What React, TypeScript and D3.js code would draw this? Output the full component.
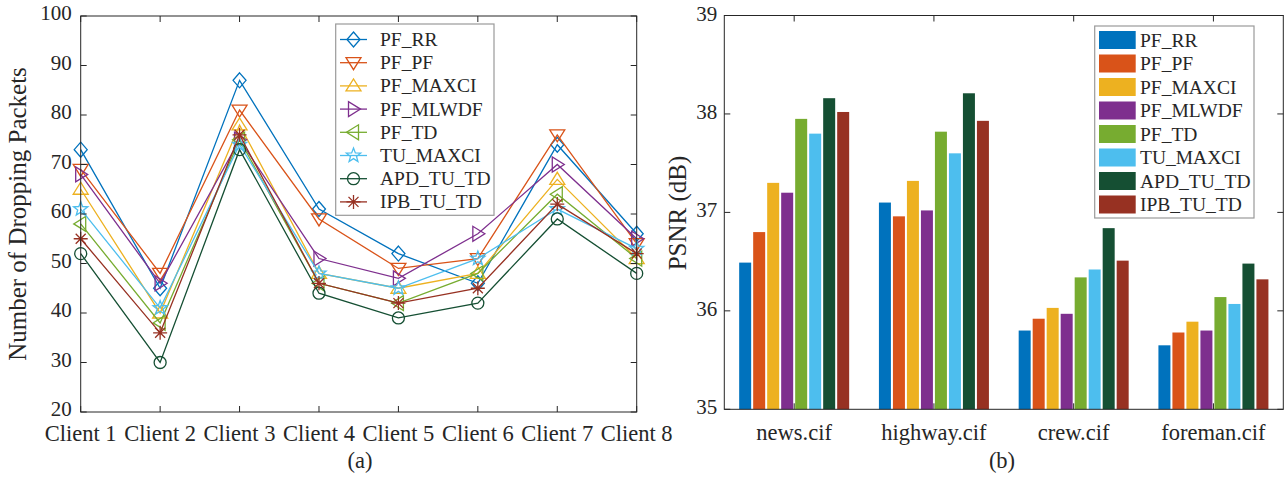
import React from "react";
import * as d3 from "d3";

const clients = ["Client 1", "Client 2", "Client 3", "Client 4", "Client 5", "Client 6", "Client 7", "Client 8"];
const seriesNames = ["PF_RR", "PF_PF", "PF_MAXCI", "PF_MLWDF", "PF_TD", "TU_MAXCI", "APD_TU_TD", "IPB_TU_TD"];

const dropPF_RR = [73, 45, 87, 61, 52, 46, 74, 56];
const dropPF_PF = [69, 48, 81, 59, 49, 51, 76, 54];
const dropPF_MAXCI = [65, 40, 78, 48, 45, 48, 67, 51];
const dropPF_MLWDF = [68, 46, 75, 51, 47, 56, 70, 55];
const dropPF_TD = [58, 38, 75, 46, 42, 48, 64, 51];
const dropTU_MAXCI = [61, 41, 74, 48, 45, 51, 61, 53];
const dropAPD_TU_TD = [52, 30, 73, 44, 39, 42, 59, 48];
const dropIPB_TU_TD = [55, 36, 76, 46, 42, 45, 62, 52];

const videos = ["news.cif", "highway.cif", "crew.cif", "foreman.cif"];
const psnrPF_RR = [36.49, 37.1, 35.8, 35.65];
const psnrPF_PF = [36.8, 36.96, 35.92, 35.78];
const psnrPF_MAXCI = [37.3, 37.32, 36.03, 35.89];
const psnrPF_MLWDF = [37.2, 37.02, 35.97, 35.8];
const psnrPF_TD = [37.95, 37.82, 36.34, 36.14];
const psnrTU_MAXCI = [37.8, 37.6, 36.42, 36.07];
const psnrAPD_TU_TD = [38.16, 38.21, 36.84, 36.48];
const psnrIPB_TU_TD = [38.02, 37.93, 36.51, 36.32];

const leftTicks = [20, 30, 40, 50, 60, 70, 80, 90, 100];
const rightTicks = [35, 36, 37, 38, 39];

const colors = ["#0072BD", "#D95319", "#EDB120", "#7E2F8E", "#77AC30", "#4DBEEE", "#154F33", "#973122"];
const markers = ["diamond", "tridown", "triup", "triright", "trileft", "star", "circle", "asterisk"];

const dropSeries = [dropPF_RR, dropPF_PF, dropPF_MAXCI, dropPF_MLWDF, dropPF_TD, dropTU_MAXCI, dropAPD_TU_TD, dropIPB_TU_TD];
const psnrSeries = [psnrPF_RR, psnrPF_PF, psnrPF_MAXCI, psnrPF_MLWDF, psnrPF_TD, psnrTU_MAXCI, psnrAPD_TU_TD, psnrIPB_TU_TD];

const FONT = "'Liberation Serif', 'Times New Roman', serif";
const AX = "#262626";

function starPath(r: number) {
  const pts: string[] = [];
  for (let i = 0; i < 10; i++) {
    const rr = i % 2 === 0 ? r : r * 0.42;
    const a = -Math.PI / 2 + (i * Math.PI) / 5;
    pts.push(`${(rr * Math.cos(a)).toFixed(2)},${(rr * Math.sin(a)).toFixed(2)}`);
  }
  return "M" + pts.join("L") + "Z";
}

function Marker({ type, x, y, color }: { type: string; x: number; y: number; color: string }) {
  const common = { fill: "none", stroke: color, strokeWidth: 1.3 };
  let d = "";
  switch (type) {
    case "diamond":
      d = "M0,-7.5L6.5,0L0,7.5L-6.5,0Z";
      break;
    case "tridown":
      d = "M-7.5,-5L7.5,-5L0,7Z";
      break;
    case "triup":
      d = "M-7.5,5L7.5,5L0,-7Z";
      break;
    case "triright":
      d = "M-5,-7.5L-5,7.5L7,0Z";
      break;
    case "trileft":
      d = "M5,-7.5L5,7.5L-7,0Z";
      break;
    case "star":
      d = starPath(7.5);
      break;
    case "circle":
      return <circle cx={x} cy={y} r={6} {...common} />;
    case "asterisk":
      d = "M0,-7L0,7M-7,0L7,0M-5,-5L5,5M-5,5L5,-5";
      break;
  }
  return <path d={d} transform={`translate(${x},${y})`} {...common} />;
}

function LeftChart() {
  const L = 80.7, R = 636.7, T = 16, B = 412;
  const x = d3.scalePoint<string>().domain(clients).range([L, R]);
  const y = d3.scaleLinear().domain([20, 100]).range([B, T]);
  const line = d3
    .line<number>()
    .x((_, i) => x(clients[i]) as number)
    .y((d) => y(d));
  const tl = 6;
  return (
    <g>
      <rect x={L} y={T} width={R - L} height={B - T} fill="white" />
      {dropSeries.map((s, si) => (
        <g key={si}>
          <path d={line(s) || ""} fill="none" stroke={colors[si]} strokeWidth={1.3} />
          {s.map((v, i) => (
            <Marker key={i} type={markers[si]} x={x(clients[i]) as number} y={y(v)} color={colors[si]} />
          ))}
        </g>
      ))}
      <rect x={L} y={T} width={R - L} height={B - T} fill="none" stroke={AX} strokeWidth={1} />
      {clients.map((c) => {
        const cx = x(c) as number;
        return (
          <g key={c}>
            <line x1={cx} x2={cx} y1={B} y2={B - tl} stroke={AX} />
            <line x1={cx} x2={cx} y1={T} y2={T + tl} stroke={AX} />
            <text x={cx} y={441} textAnchor="middle" fontSize={22.5} fill={AX} fontFamily={FONT}>
              {c}
            </text>
          </g>
        );
      })}
      {leftTicks.map((t) => (
        <g key={t}>
          <line x1={L} x2={L + tl} y1={y(t)} y2={y(t)} stroke={AX} />
          <line x1={R} x2={R - tl} y1={y(t)} y2={y(t)} stroke={AX} />
          <text x={L - 9} y={y(t) + 4} textAnchor="end" fontSize={21} fill={AX} fontFamily={FONT}>
            {t}
          </text>
        </g>
      ))}
      <text
        transform={`translate(26,214) rotate(-90)`}
        textAnchor="middle"
        fontSize={25}
        fill={AX}
        fontFamily={FONT}
      >
        Number of Dropping Packets
      </text>
      <text x={360} y={468} textAnchor="middle" fontSize={22.5} fill={AX} fontFamily={FONT}>
        (a)
      </text>
      <g>
        <rect x={335.7} y={24} width={158.3} height={191.3} fill="white" stroke="#9a9a9a" strokeWidth={1.2} />
        {seriesNames.map((n, i) => {
          const ry = 39.5 + i * 23.2;
          return (
            <g key={n}>
              <line x1={340} x2={367} y1={ry} y2={ry} stroke={colors[i]} strokeWidth={1.3} />
              <Marker type={markers[i]} x={353.5} y={ry} color={colors[i]} />
              <text x={380} y={ry + 6.5} fontSize={19.5} fill={AX} fontFamily={FONT}>
                {n}
              </text>
            </g>
          );
        })}
      </g>
    </g>
  );
}

function RightChart() {
  const L = 724.3, R = 1283.3, T = 15.5, B = 409.3;
  const x = d3.scaleBand<string>().domain(videos).range([L, R]).paddingInner(0).paddingOuter(0);
  const inner = d3
    .scaleBand<string>()
    .domain(seriesNames)
    .range([-56, 56])
    .paddingInner(1 / 7)
    .paddingOuter(1 / 14);
  const y = d3.scaleLinear().domain([35, 39]).range([B, T]);
  const tl = 6;
  return (
    <g>
      <rect x={L} y={T} width={R - L} height={B - T} fill="white" />
      {videos.map((v, vi) => {
        const cx = (x(v) as number) + x.bandwidth() / 2;
        return (
          <g key={v}>
            {psnrSeries.map((s, si) => (
              <rect
                key={si}
                x={cx + (inner(seriesNames[si]) as number)}
                y={y(s[vi])}
                width={inner.bandwidth()}
                height={y(35) - y(s[vi])}
                fill={colors[si]}
              />
            ))}
            <line x1={cx} x2={cx} y1={B} y2={B - tl} stroke={AX} />
            <line x1={cx} x2={cx} y1={T} y2={T + tl} stroke={AX} />
            <text x={cx} y={440} textAnchor="middle" fontSize={22.5} fill={AX} fontFamily={FONT}>
              {v}
            </text>
          </g>
        );
      })}
      <rect x={L} y={T} width={R - L} height={B - T} fill="none" stroke={AX} strokeWidth={1} />
      {rightTicks.map((t) => (
        <g key={t}>
          <line x1={L} x2={L + tl} y1={y(t)} y2={y(t)} stroke={AX} />
          <line x1={R} x2={R - tl} y1={y(t)} y2={y(t)} stroke={AX} />
          <text x={L - 7} y={y(t) + 5} textAnchor="end" fontSize={21} fill={AX} fontFamily={FONT}>
            {t}
          </text>
        </g>
      ))}
      <text
        transform={`translate(686,213) rotate(-90)`}
        textAnchor="middle"
        fontSize={25}
        fill={AX}
        fontFamily={FONT}
      >
        PSNR (dB)
      </text>
      <text x={1002} y={468} textAnchor="middle" fontSize={22.5} fill={AX} fontFamily={FONT}>
        (b)
      </text>
      <g>
        <rect x={1094.7} y={26} width={159.3} height={192} fill="white" stroke="#9a9a9a" strokeWidth={1.2} />
        {seriesNames.map((n, i) => {
          const ry = 40 + i * 23.5;
          return (
            <g key={n}>
              <rect x={1099} y={ry - 9} width={36.7} height={18} fill={colors[i]} />
              <text x={1140} y={ry + 6.5} fontSize={19.5} fill={AX} fontFamily={FONT}>
                {n}
              </text>
            </g>
          );
        })}
      </g>
    </g>
  );
}

export default function App() {
  return (
    <svg
      width={1284}
      height={477}
      style={{ position: "absolute", left: 0, top: 0, display: "block", background: "white" }}
    >
      <rect width={1284} height={477} fill="white" />
      <LeftChart />
      <RightChart />
    </svg>
  );
}
